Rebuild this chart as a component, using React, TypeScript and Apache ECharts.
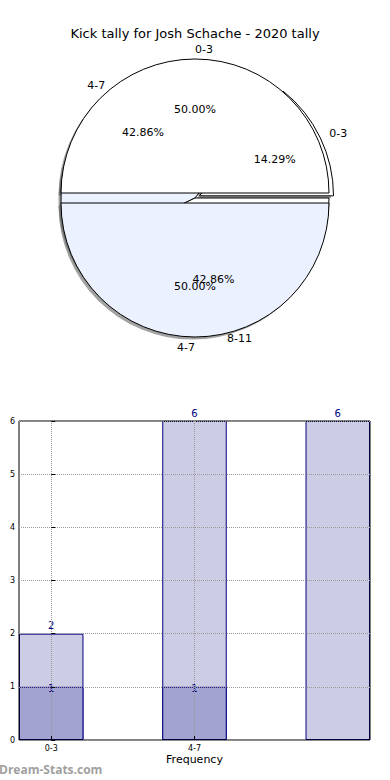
import React, { useEffect, useRef } from 'react';
import * as echarts from 'echarts';

const TITLE = 'Kick tally for Josh Schache - 2020 tally';
const intervals = ['0-3', '4-7', '8-11'];
const positions = [0, 1, 2];
const totals = [2, 6, 6];
const lowerCounts = [1, 1];
const pieOuterNames = ['0-3', '4-7'];
const pieOuterValues = [1, 1];
const pieInnerExploded = [true, false, false];
const xTickPositions = [0, 1];
const WATERMARK = 'Dream-Stats.com';

const FONT = 'DejaVu Sans';
const R = 134;
const CX = 195;
const CY = 198;
const SH = 2.5;
const BAR_W = 0.45;
const sliceColors = ['#ffffff', '#ebf1ff', '#ffffff'];

export default function App() {
  const ref = useRef<HTMLDivElement>(null);
  useEffect(() => {
    document.body.style.margin = '0';
    const chart = echarts.init(ref.current as HTMLDivElement, null, { renderer: 'svg' });

    const innerSum = totals.reduce((a, b) => a + b, 0);
    const outerSum = pieOuterValues.reduce((a, b) => a + b, 0);

    const innerData = intervals.map((n, i) => ({
      name: n,
      value: totals[i],
      selected: pieInnerExploded[i],
      itemStyle: { color: sliceColors[i] },
    }));
    const outerData = pieOuterNames.map((n, i) => ({
      name: n,
      value: pieOuterValues[i],
      selected: true,
      itemStyle: { color: sliceColors[i] },
    }));
    const commonPie: any = {
      type: 'pie',
      center: [CX, CY],
      clockwise: false,
      startAngle: 0,
      avoidLabelOverlap: false,
      selectedMode: 'multiple',
      selectedOffset: 5,
      silent: true,
      emphasis: { disabled: true },
      labelLayout: { hideOverlap: false },
    };
    const nameLabel = {
      show: true,
      position: 'outside',
      fontFamily: FONT,
      fontSize: 11,
      color: '#000',
      distanceToLabelLine: 0,
      formatter: '{b}',
    };
    const pctLabel = (sum: number) => ({
      show: true,
      position: 'inside',
      fontFamily: FONT,
      fontSize: 11,
      color: '#000',
      formatter: (p: any) => ((p.value / sum) * 100).toFixed(2) + '%',
    });
    const labelLine = { show: false, length: 10, length2: 0 };
    const pctItem = { color: 'rgba(0,0,0,0)', borderWidth: 0 };
    const shadowItem = { color: 'rgba(70,70,70,0.5)', borderWidth: 0 };
    const shapeItem = { borderColor: '#000', borderWidth: 1 };

    const labelStyle = { fontFamily: FONT, color: '#000' };

    chart.setOption({
      animation: false,
      title: {
        text: TITLE,
        left: 'center',
        top: 22,
        textStyle: { fontFamily: FONT, fontSize: 13, fontWeight: 'normal', color: '#000' },
      },
      graphic: [
        {
          type: 'text',
          left: -1,
          top: 763,
          style: { text: WATERMARK, fill: '#a0a0a0', font: 'bold 12px "Open Sans"' },
        },
      ],
      grid: {
        left: 19,
        right: 20,
        top: 421,
        bottom: 40,
        show: true,
        borderColor: '#000',
        borderWidth: 1,
        backgroundColor: 'rgba(0,0,0,0)',
        containLabel: false,
        outerBoundsMode: 'none',
        z: 5,
      },
      xAxis: {
        type: 'value',
        min: -BAR_W / 2,
        max: positions[positions.length - 1] + BAR_W / 2,
        z: 5,
        axisLine: { show: false },
        axisTick: { show: true, inside: true, length: 4, customValues: xTickPositions, lineStyle: { color: '#000' } },
        axisLabel: {
          customValues: xTickPositions,
          formatter: (v: number) => intervals[Math.round(v)] ?? '',
          fontSize: 8,
          margin: 4,
          ...labelStyle,
        },
        splitLine: { show: true, lineStyle: { type: 'dotted', color: '#999', width: 1 } },
        name: 'Frequency',
        nameLocation: 'middle',
        nameGap: 14,
        nameTextStyle: { fontSize: 11, ...labelStyle },
      },
      yAxis: {
        type: 'value',
        min: 0,
        max: 6,
        interval: 1,
        z: 5,
        axisLine: { show: false },
        axisTick: { show: true, inside: true, length: 4, lineStyle: { color: '#000' } },
        axisLabel: { fontSize: 8, margin: 4, ...labelStyle },
        splitLine: { show: true, lineStyle: { type: 'dotted', color: '#999', width: 1 } },
        name: 'Stat Intervals',
        nameLocation: 'middle',
        nameGap: 10,
        nameTextStyle: { fontSize: 11, ...labelStyle },
      },
      series: [
        {
          ...commonPie,
          center: [CX - SH, CY + SH],
          radius: [0, R],
          data: innerData.map((d) => ({ ...d, itemStyle: shadowItem })),
          itemStyle: shadowItem,
          label: { show: false },
          labelLine: { show: false },
        },
        {
          ...commonPie,
          center: [CX - SH, CY + SH],
          radius: [0, R],
          data: outerData.map((d) => ({ ...d, itemStyle: shadowItem })),
          itemStyle: shadowItem,
          label: { show: false },
          labelLine: { show: false },
        },
        {
          ...commonPie,
          radius: [0, R],
          data: innerData,
          itemStyle: shapeItem,
          label: nameLabel,
          labelLine,
        },
        {
          ...commonPie,
          radius: [0, R],
          data: outerData,
          itemStyle: shapeItem,
          label: nameLabel,
          labelLine,
        },
        {
          ...commonPie,
          radius: [0, R * 1.2],
          data: innerData.map((d) => ({ ...d, itemStyle: pctItem })),
          itemStyle: pctItem,
          label: pctLabel(innerSum),
          labelLine: { show: false },
        },
        {
          ...commonPie,
          radius: [0, R * 1.2],
          data: outerData.map((d) => ({ ...d, itemStyle: pctItem })),
          itemStyle: pctItem,
          label: pctLabel(outerSum),
          labelLine: { show: false },
        },
        {
          type: 'bar',
          data: positions.map((x, i) => [x, totals[i]]),
          barWidth: '45%',
          barGap: '-100%',
          itemStyle: { color: '#ccccE5', borderColor: '#000080', borderWidth: 1 },
          label: {
            show: true,
            position: 'top',
            distance: 3,
            color: '#000080',
            fontSize: 10,
            fontFamily: FONT,
            formatter: (p: any) => String(p.value[1]),
          },
          silent: true,
        },
        {
          type: 'bar',
          data: lowerCounts.map((v, i) => [positions[i], v]),
          barWidth: '45%',
          barGap: '-100%',
          itemStyle: { color: '#a3a3d1', borderColor: '#000080', borderWidth: 1 },
          label: {
            show: true,
            position: 'top',
            distance: -7,
            color: '#000080',
            fontSize: 10,
            fontFamily: FONT,
            formatter: (p: any) => String(p.value[1]),
          },
          silent: true,
        },
      ],
    });
    return () => chart.dispose();
  }, []);
  return <div ref={ref} style={{ width: 390, height: 780 }} />;
}
